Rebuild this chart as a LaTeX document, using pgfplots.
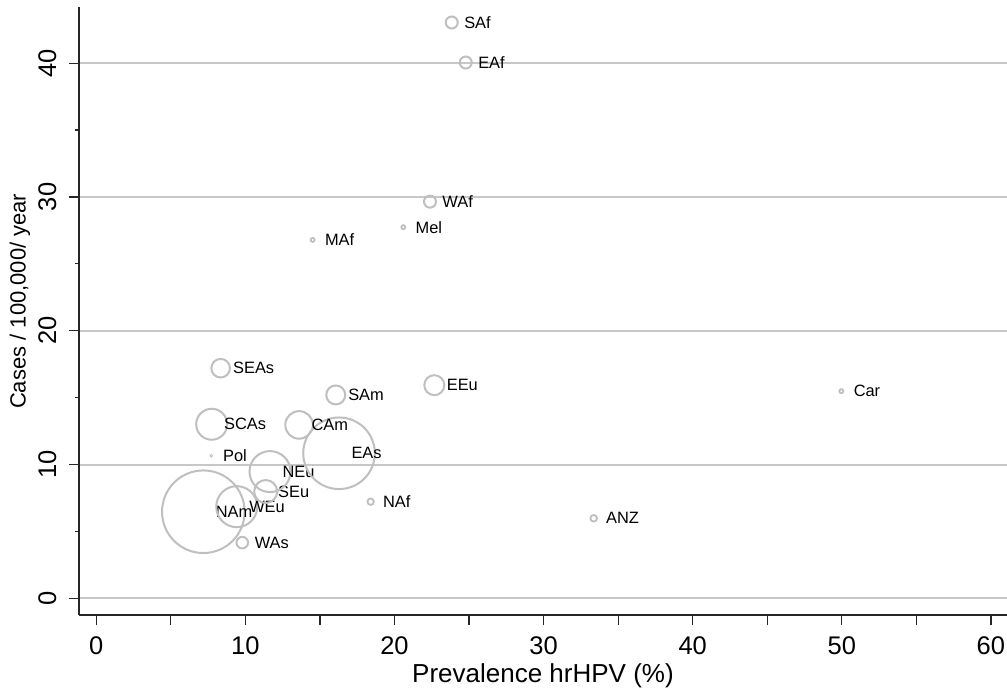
\documentclass[border=0pt]{standalone}
\usepackage{fontspec}
\setmainfont{Liberation Sans}
\usepackage{pgfplots}
\pgfplotsset{compat=1.18}

% one bubble: #1 = radius (pt, 1pt = 1px), #2 = region label
\pgfplotsset{bub/.style 2 args={only marks, mark=o, mark size=#1,
  mark options={draw=black!25, line width=2pt},
  nodes near coords={#2},
  every node near coord/.style={anchor=west, inner sep=0pt, xshift=11.5pt, text=black,
    font=\fontsize{16.4pt}{18pt}\selectfont}},
  dot/.style={mark options={draw=black!25, line width=1.8pt}}}

\begin{document}
\begin{tikzpicture}
\begin{axis}[scale only axis, width=928pt, height=608pt,
  xmin=-1.16, xmax=61.08, ymin=-1.25, ymax=44.2,
  axis x line*=bottom, axis y line*=left,
  axis line style={-, black!85, line width=1.3pt},
  tick style={black!85, line width=1.3pt},
  tick align=outside, major tick length=10pt, minor tick length=4pt,
  xtick={0,10,...,60}, ytick={0,10,...,40}, minor y tick num=1,
  extra x ticks={5,15,...,55}, extra x tick labels={},
  extra x tick style={major tick length=10pt},
  ymajorgrids, major grid style={black!22, line width=2pt},
  /pgf/number format/assume math mode=true,
  ticklabel style={font=\fontsize{25.5pt}{30pt}\selectfont},
  xticklabel style={yshift=-8pt},
  yticklabel style={xshift=-9pt, rotate=90, anchor=south},
  xlabel={Prevalence hrHPV (\%)},
  xlabel style={font=\fontsize{26pt}{30pt}\selectfont, at={(axis description cs:0.5,-0.1102)}, anchor=base},
  ylabel={Cases / 100,000/ year},
  ylabel style={font=\fontsize{22pt}{26pt}\selectfont, at={(axis description cs:-0.0636,0.516)}, anchor=center},
  clip=false]
\addplot[bub={41.3}{NAm}]  coordinates {(7.18,6.47)};
\addplot[bub={20.5}{WEu}]  coordinates {(9.42,6.85)};
\addplot[bub={11.5}{SEu}]  coordinates {(11.36,7.98)};
\addplot[bub={20.5}{NEu}]  coordinates {(11.65,9.47)};
\addplot[bub={35.8}{EAs}]  coordinates {(16.28,10.84)};
\addplot[bub={15.5}{SCAs}] coordinates {(7.74,13.01)};
\addplot[bub={13.8}{CAm}]  coordinates {(13.60,12.96)};
\addplot[bub={9.3}{SEAs}]  coordinates {(8.34,17.20)};
\addplot[bub={9.5}{SAm}]   coordinates {(16.06,15.20)};
\addplot[bub={10}{EEu}]    coordinates {(22.67,15.93)};
\addplot[bub={5.8}{WAs}]   coordinates {(9.79,4.16)};
\addplot[bub={6}{SAf}]     coordinates {(23.84,43.04)};
\addplot[bub={6}{EAf}]     coordinates {(24.78,40.05)};
\addplot[bub={6}{WAf}]     coordinates {(22.38,29.65)};
\addplot[bub={2}{Mel}, dot]  coordinates {(20.59,27.74)};
\addplot[bub={2}{MAf}, dot]  coordinates {(14.51,26.79)};
\addplot[bub={2}{Car}, dot]  coordinates {(49.97,15.48)};
\addplot[bub={3.2}{NAf}, dot] coordinates {(18.40,7.22)};
\addplot[bub={3.3}{ANZ}, dot] coordinates {(33.36,5.98)};
\addplot[bub={1.3}{Pol}, mark options={draw=black!25, line width=0.8pt}] coordinates {(7.71,10.66)};
\coordinate (ll) at (rel axis cs:0,0);
\coordinate (ur) at (rel axis cs:1,1);
\end{axis}
\pgfresetboundingbox
\path[use as bounding box] ([shift={(-79pt,-72pt)}]ll) rectangle ([shift={(0pt,7pt)}]ur);
\end{tikzpicture}
\end{document}
